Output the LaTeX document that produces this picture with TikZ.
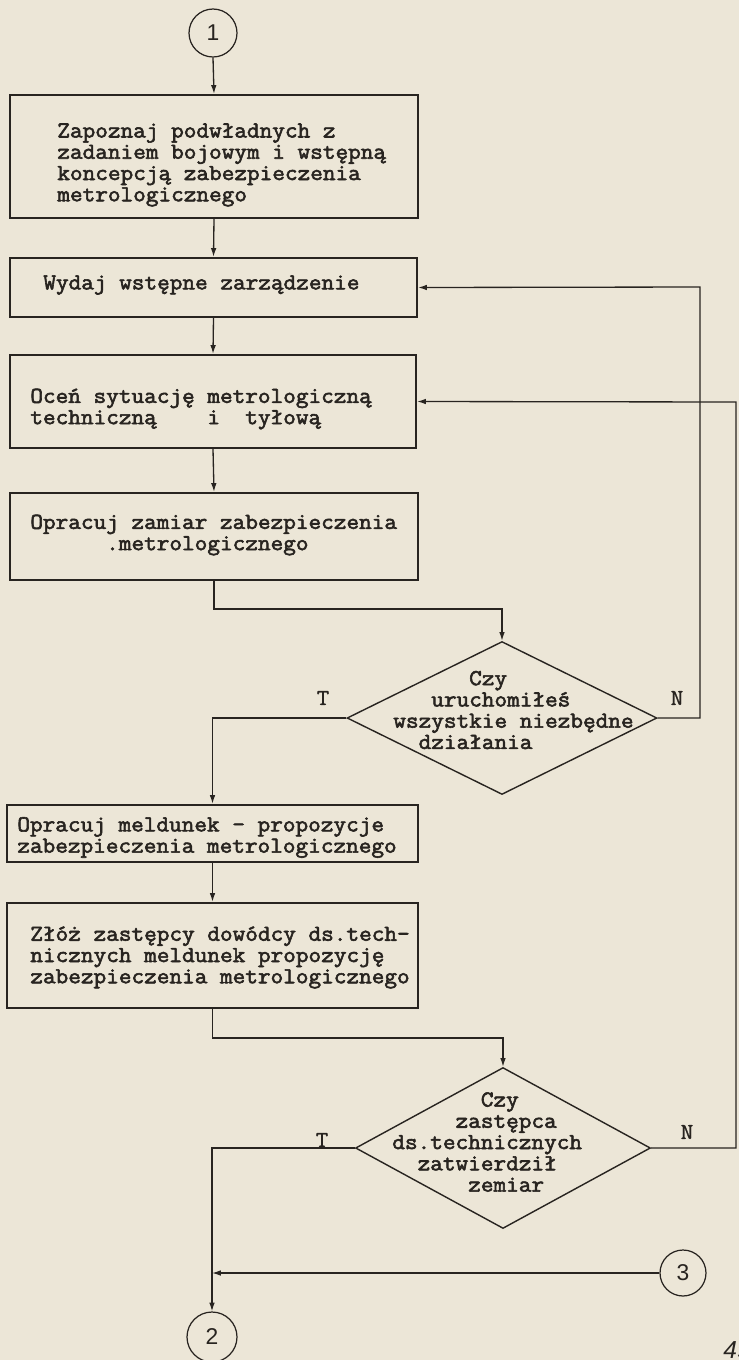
\documentclass[tikz,border=0pt]{standalone}
\usepackage{fontspec}
\newfontfamily\numfont{Liberation Sans}
\newfontfamily\typefont{Latin Modern Mono}[FakeBold=2.5,FakeStretch=1.075]
\newfontfamily\labfont{Latin Modern Mono}[FakeBold=1,FakeStretch=1.075]
\usetikzlibrary{shapes.geometric,arrows.meta,calc}
\definecolor{paper}{RGB}{236,230,215}
\definecolor{ink}{RGB}{40,36,32}
\begin{document}
\begin{tikzpicture}[x=0.02cm,y=-0.02cm,
  every node/.style={text=ink},
  box/.style={draw=ink, line width=1.3pt, rectangle, inner sep=0pt},
  txt/.style={font=\typefont\fontsize{13}{12.1}\selectfont, align=left, inner sep=0pt, anchor=west},
  lab/.style={font=\labfont\fontsize{13}{12.1}\selectfont, inner sep=0pt},
  conn/.style={draw=ink, line width=0.75pt},
  arr/.style={conn, -{Latex[length=5pt,width=3.2pt]}},
  conncirc/.style={circle, draw=ink, line width=0.7pt, inner sep=0pt, font=\numfont\fontsize{13}{13}\selectfont},
  dia/.style={diamond, draw=ink, line width=0.8pt, inner sep=0pt}]
\fill[paper] (0,0) rectangle (739,1360);
\clip (0,0) rectangle (739,1360);

% connector circles
\node[conncirc, minimum size=0.96cm] (c1) at (213,33) {1};
\node[conncirc, minimum size=1.0cm] (c2) at (212,1337) {2};
\node[conncirc, minimum size=0.92cm] (c3) at (683,1273) {3};

% boxes
\node[box, minimum width=8.16cm, minimum height=2.46cm] (b1) at (214,156.5) {};
\node[txt] (t1) at (57,165) {Zapoznaj podwładnych z\\zadaniem bojowym i wstępną\\koncepcją zabezpieczenia\\metrologicznego};

\node[box, minimum width=8.14cm, minimum height=1.18cm] (b2) at (213.5,287.5) {};
\node[txt] (t2) at (43,285) {Wydaj wstępne zarządzenie};

\node[box, minimum width=8.12cm, minimum height=1.86cm] (b3) at (213,401.5) {};
\node[txt] (t3) at (30,409) {Oceń sytuację metrologiczną\\techniczną~~~~i~~tyłową};

\node[box, minimum width=8.16cm, minimum height=1.74cm] (b4) at (214,536.5) {};
\node[txt] (t4) at (30,535) {Opracuj zamiar zabezpieczenia\\\phantom{XXXXXX}.metrologicznego};

\node[dia, minimum width=6.2cm, minimum height=3.06cm] (d1) at (502,718) {};
\node[txt] (td1) at (393,710) {\phantom{XXXXXX}Czy\\\phantom{XXX}uruchomiłeś\\wszystkie niezbędne\\\phantom{XX}działania};
\node[lab] (lt1) at (323,698) {T};
\node[lab] (ln1) at (677,698) {N};

\node[box, minimum width=8.22cm, minimum height=1.14cm] (b5) at (212.5,833.5) {};
\node[txt] (t5) at (17,837.5) {Opracuj meldunek - propozycje\\zabezpieczenia metrologicznego};

\node[box, minimum width=8.22cm, minimum height=2.1cm] (b6) at (212.5,955.5) {};
\node[txt] (t6) at (30,957.5) {Złóż zastępcy dowódcy ds.tech-\\nicznych meldunek propozycję\\zabezpieczenia metrologicznego};

\node[dia, minimum width=5.9cm, minimum height=3.22cm] (d2) at (503,1148) {};
\node[txt] (td2) at (392,1142) {\phantom{XXXXXXX}Czy\\\phantom{XXXXX}zastępca\\ds.technicznych\\\phantom{XX}zatwierdził\\\phantom{XXXXXX}zemiar};
\node[lab] (lt2) at (322,1140) {T};
\node[lab] (ln2) at (687,1132) {N};

\node[font=\numfont\itshape\fontsize{14}{14}\selectfont, anchor=west, inner sep=0pt] (pg) at (723,1350) {49};

% connectors
\coordinate (r1) at (700,287);
\coordinate (r2) at (736,402);
\coordinate (j) at (c2.north |- c3.west);

\draw[arr] (c1.south) -- (b1.north);
\draw[arr] (b1.south) -- (b2.north);
\draw[arr] (b2.south) -- (b3.north);
\draw[arr] (b3.south) -- (b4.north);
\draw[arr] (b4.south) -- ++(0,28) -| (d1.north);
\draw[arr] (d1.west) -| (b5.north);
\draw[arr] (d1.east) -| (r1) -- (b2.east);
\draw[arr] (b5.south) -- (b6.north);
\draw[arr] (b6.south) -- ++(0,29) -| (d2.north);
\draw[arr] (d2.west) -| (c2.north);
\draw[arr] (d2.east) -| (r2) -- (b3.east);
\draw[arr] (c3.west) -- (j);
\end{tikzpicture}
\end{document}
